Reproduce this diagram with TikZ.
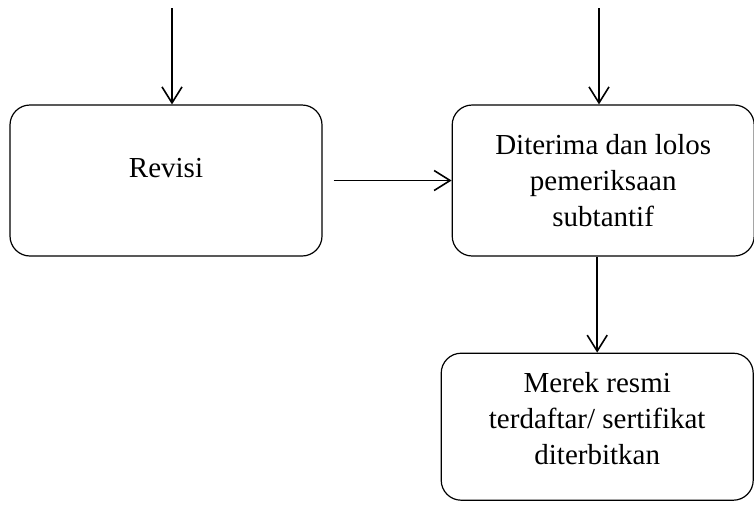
\documentclass[tikz,border=0pt]{standalone}
\usepackage{fontspec}
\setmainfont{Liberation Serif}
\usetikzlibrary{arrows.meta, positioning}

\begin{document}
\begin{tikzpicture}[x=0.5pt, y=-0.5pt, box/.style={draw, line width=0.6pt, rounded corners=10pt, align=center, font=\fontsize{14.5}{18}\selectfont}, ->, >={Straight Barb[length=8pt, width=10pt]}, line width=0.8pt]
        \useasboundingbox (0,0) rectangle (754,505);
        \node[box, minimum width=156pt, minimum height=75.5pt, text depth=13pt] (revisi) at (166,180.5) {Revisi};
        \node[box, minimum width=151pt, minimum height=75.5pt, right=64.5pt of revisi] (diterima) {Diterima dan lolos\\pemeriksaan\\subtantif};
        \node[box, minimum width=156pt, minimum height=73.5pt, text depth=8pt, below=48pt of diterima, xshift=-3pt] (merek) {Merek resmi\\terdaftar/ sertifikat\\diterbitkan};

        \coordinate (inL) at (172,8);
        \coordinate (inR) at (599,8);

        \draw (inL) -- (inL |- revisi.north);
        \draw (inR) -- (inR |- diterima.north);
        \draw ([xshift=5.5pt]revisi.east) -- (revisi.east -| diterima.west);
        \draw (diterima.south -| merek.north) -- (merek.north);
    \end{tikzpicture}
\end{document}
